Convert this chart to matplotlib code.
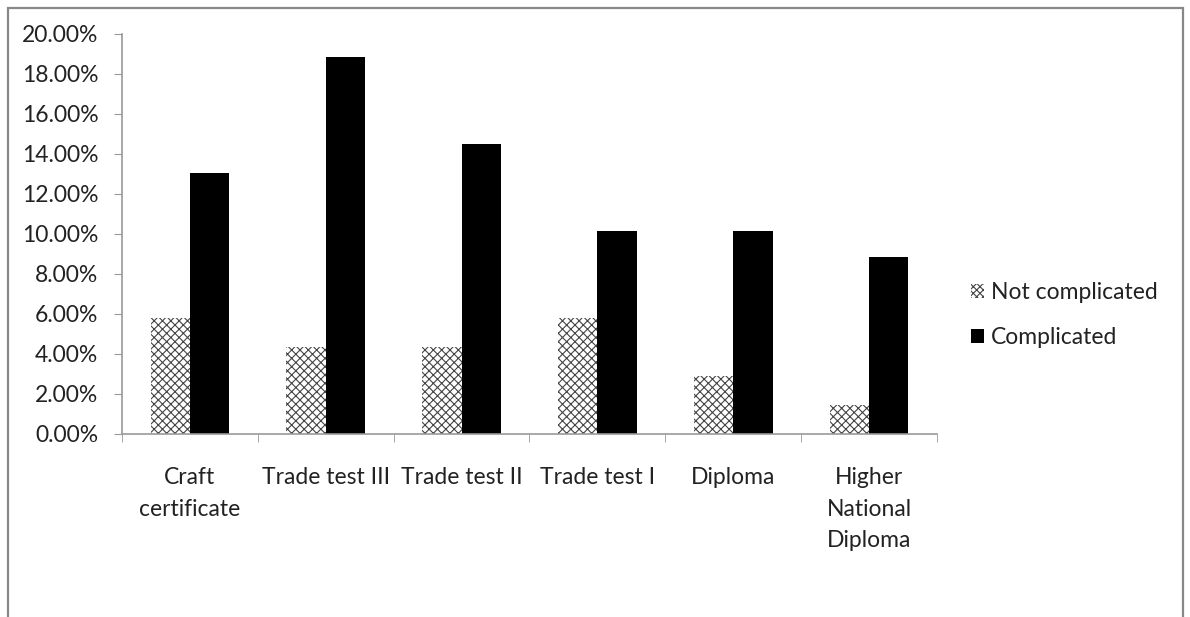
import numpy as np
import matplotlib
matplotlib.use("Agg")
import matplotlib.pyplot as plt
from matplotlib.patches import Patch, Rectangle
from matplotlib.ticker import FuncFormatter, FixedLocator

categories = ["Craft\ncertificate", "Trade test III", "Trade test II",
              "Trade test I", "Diploma", "Higher\nNational\nDiploma"]
not_complicated = [5.80, 4.35, 4.35, 5.80, 2.90, 1.45]
complicated = [13.04, 18.84, 14.49, 10.14, 10.14, 8.85]
series_names = ["Not complicated", "Complicated"]

plt.rcParams["font.family"] = ["Lato", "DejaVu Sans"]
plt.rcParams["hatch.linewidth"] = 0.8

fs = 16.5
fig = plt.figure(figsize=(11.9, 6.17), dpi=100)
ax = fig.add_axes([122 / 1190, 1 - 434 / 617, (937 - 122) / 1190, 400 / 617])

x = np.arange(len(categories))
w = 0.29
ax.bar(x - w / 2, not_complicated, w, facecolor="white", edgecolor="#444444",
       hatch="xxxx", linewidth=0)
ax.bar(x + w / 2, complicated, w, color="black", linewidth=0)

ax.set_xlim(-0.5, len(categories) - 0.5)
ax.set_ylim(0, 20)
ax.set_yticks(np.arange(0, 21, 2))
ax.yaxis.set_major_formatter(FuncFormatter(lambda v, p: f"{v:.2f}%"))

ax.set_xticks(x)
ax.set_xticklabels(categories, fontsize=fs, color="#222222", linespacing=1.6)
ax.xaxis.set_minor_locator(FixedLocator(np.arange(-0.5, len(categories), 1)))
ax.tick_params(axis="x", which="major", length=0, pad=24)
ax.tick_params(axis="x", which="minor", length=6, color="#999999", direction="out")
ax.tick_params(axis="y", length=6, color="#999999", direction="out",
               labelsize=fs, labelcolor="#222222", pad=11)

for side in ["top", "right"]:
    ax.spines[side].set_visible(False)
for side in ["left", "bottom"]:
    ax.spines[side].set_color("#999999")
    ax.spines[side].set_linewidth(1.2)

handles = [Patch(facecolor="white", edgecolor="#444444", hatch="xxxxx", linewidth=0),
           Patch(facecolor="black", linewidth=0)]
fig.legend(handles, series_names, loc="center left",
           bbox_to_anchor=(950 / 1190, 1 - 315 / 617), frameon=False,
           fontsize=fs, handlelength=0.6, handleheight=0.6,
           handletextpad=0.3, labelspacing=1.05, labelcolor="#222222")

# outer chart frame
fig.patches.append(Rectangle((8 / 1190, -0.1), (1183 - 8) / 1190, 0.1 + 1 - 8 / 617,
                             transform=fig.transFigure, fill=False,
                             edgecolor="#888888", linewidth=1.6))

fig.savefig("out.png", dpi=100)
